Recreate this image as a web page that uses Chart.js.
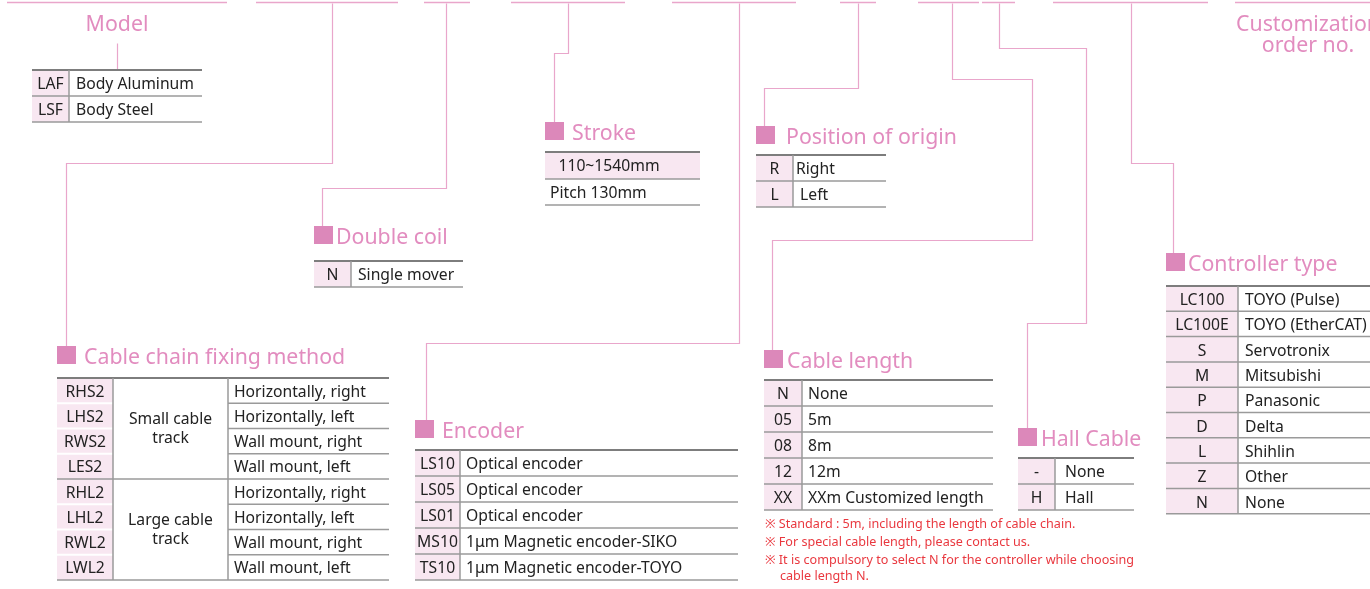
<!DOCTYPE html>
<html>
<head>
<meta charset="utf-8">
<script src="https://cdn.jsdelivr.net/npm/chart.js@4.4.1/dist/chart.umd.min.js"></script>
<style>
  html, body { margin: 0; padding: 0; background: #fff; overflow: hidden; }
  #wrap { width: 1370px; height: 589px; position: relative; }
</style>
</head>
<body>
<div id="wrap"><canvas id="orderChart"></canvas></div>
<script>
// Order code data
const modelCodes = ['LAF', 'LSF'];
const modelDescs = ['Body Aluminum', 'Body Steel'];

const strokeRows = ['110~1540mm', 'Pitch 130mm'];

const doubleCoilCodes = ['N'];
const doubleCoilDescs = ['Single mover'];

const originCodes = ['R', 'L'];
const originDescs = ['Right', ' Left'];

const cableChainCodes = ['RHS2', 'LHS2', 'RWS2', 'LES2', 'RHL2', 'LHL2', 'RWL2', 'LWL2'];
const cableChainGroups = [['Small cable', 'track'], ['Large cable', 'track']];
const cableChainDescs = ['Horizontally, right', 'Horizontally, left', 'Wall mount, right', 'Wall mount, left',
                         'Horizontally, right', 'Horizontally, left', 'Wall mount, right', 'Wall mount, left'];

const encoderCodes = ['LS10', 'LS05', 'LS01', 'MS10', 'TS10'];
const encoderDescs = ['Optical encoder', 'Optical encoder', 'Optical encoder',
                      '1μm Magnetic encoder-SIKO', '1μm Magnetic encoder-TOYO'];

const cableLengthCodes = ['N', '05', '08', '12', 'XX'];
const cableLengthDescs = ['None', '5m', '8m', '12m', 'XXm Customized length'];

const hallCodes = ['-', 'H'];
const hallDescs = ['None', 'Hall'];

const controllerCodes = ['LC100', 'LC100E', 'S', 'M', 'P', 'D', 'L', 'Z', 'N'];
const controllerDescs = ['TOYO (Pulse)', 'TOYO (EtherCAT)', 'Servotronix', 'Mitsubishi', 'Panasonic',
                         'Delta', 'Shihlin', 'Other', 'None'];

const cableNotes = ['※ Standard : 5m, including the length of cable chain.',
                    '※ For special cable length, please contact us.',
                    '※ It is compulsory to select N for the controller while choosing',
                    'cable length N.'];

// Layout (diagram units = page pixels)
const topSegments = [[7, 227], [256, 398], [424, 470], [511, 625], [672, 796], [840, 876],
                     [918, 979], [982, 1015], [1053, 1208], [1235, 1370]];
const connectors = [
    [[117, 43], [117, 70]],
    [[332, 3], [332, 163], [66, 163], [66, 346]],
    [[446, 3], [446, 188], [322, 188], [322, 226]],
    [[568, 3], [568, 53], [554, 53], [554, 122]],
    [[739, 3], [739, 343], [426, 343], [426, 420]],
    [[858, 3], [858, 88], [764, 88], [764, 126]],
    [[952, 3], [952, 79], [1032, 79], [1032, 240], [772, 240], [772, 350]],
    [[999, 3], [999, 48], [1086, 48], [1086, 323], [1027, 323], [1027, 428]],
    [[1131, 3], [1131, 163], [1173, 163], [1173, 253]]
];

const PINK_LINE = '#e9a6cb';
const PINK_TEXT = '#e28cbf';
const PINK_BOX = '#dc88ba';
const CELL_BG = '#f8e7f1';
const GRID = '#9a9a9a';
const TEXT = '#222';
const FONT = '"Noto Sans", "Open Sans", sans-serif';
const CELL_SIZE = 15.7;
const TITLE_SIZE = 21.3;

const diagramPlugin = {
    id: 'orderDiagram',
    afterDraw(chart) {
        const ctx = chart.ctx;
        const sx = chart.scales.x, sy = chart.scales.y;
        const px = v => sx.getPixelForValue(v);
        const py = v => sy.getPixelForValue(v);

        ctx.save();
        ctx.lineCap = 'butt';

        // top code segments
        ctx.strokeStyle = PINK_LINE;
        ctx.lineWidth = 1.5;
        topSegments.forEach(s => {
            ctx.beginPath();
            ctx.moveTo(px(s[0]), py(2.5));
            ctx.lineTo(px(s[1]), py(2.5));
            ctx.stroke();
        });
        // connector lines
        connectors.forEach(path => {
            ctx.beginPath();
            path.forEach((p, i) => {
                const X = Math.round(px(p[0])) + 0.5, Y = Math.round(py(p[1])) + 0.5;
                if (i === 0) ctx.moveTo(X, Y); else ctx.lineTo(X, Y);
            });
            ctx.lineWidth = 1.2;
            ctx.stroke();
        });

        function text(str, x, y, size, color, align) {
            ctx.font = size + 'px ' + FONT;
            ctx.fillStyle = color;
            ctx.textAlign = align || 'left';
            ctx.textBaseline = 'middle';
            ctx.fillText(str, px(x), py(y));
        }
        function hline(x1, x2, y, color, w) {
            ctx.strokeStyle = color;
            ctx.lineWidth = w;
            ctx.beginPath();
            ctx.moveTo(px(x1), py(y));
            ctx.lineTo(px(x2), py(y));
            ctx.stroke();
        }
        function vline(x, y1, y2, color, w) {
            ctx.strokeStyle = color;
            ctx.lineWidth = w;
            ctx.beginPath();
            ctx.moveTo(px(x), py(y1));
            ctx.lineTo(px(x), py(y2));
            ctx.stroke();
        }
        function heading(label, x, y, gap) {
            ctx.fillStyle = PINK_BOX;
            ctx.fillRect(px(x), py(y), px(x + 19) - px(x), py(y + 18) - py(y));
            text(label, x + 19 + gap, y + 12, TITLE_SIZE, PINK_TEXT);
        }
        // simple two-column code table
        function codeTable(x, xCol, xEnd, top, rowH, codes, descs, descPad) {
            const bottom = top + rowH * codes.length;
            ctx.fillStyle = CELL_BG;
            ctx.fillRect(px(x), py(top), px(xCol) - px(x), py(bottom) - py(top));
            for (let i = 0; i <= codes.length; i++) {
                const y = top + rowH * i;
                hline(x, xEnd, y, i === 0 ? '#7d7d7d' : GRID, i === 0 ? 2 : 1.5);
            }
            vline(xCol, top, bottom, GRID, 1.5);
            codes.forEach((c, i) => {
                const cy = top + rowH * i + rowH / 2 + 2;
                text(c, (x + xCol) / 2, cy, CELL_SIZE, TEXT, 'center');
                text(descs[i], xCol + (descPad || 7), cy, CELL_SIZE, TEXT);
            });
        }

        // Model
        text('Model', 117, 25, TITLE_SIZE, PINK_TEXT, 'center');
        codeTable(32, 69, 202, 70, 26, modelCodes, modelDescs, 7);

        // Stroke
        heading('Stroke', 545, 122, 8);
        ctx.fillStyle = CELL_BG;
        ctx.fillRect(px(545), py(152), px(700) - px(545), py(179) - py(152));
        hline(545, 700, 152, '#7d7d7d', 2);
        hline(545, 700, 179, GRID, 1.5);
        hline(545, 700, 205, GRID, 1.5);
        text(strokeRows[0], 609, 167, CELL_SIZE, TEXT, 'center');
        text(strokeRows[1], 550, 194, CELL_SIZE, TEXT);

        // Position of origin
        heading('Position of origin', 756, 126, 11);
        codeTable(756, 793, 886, 155, 26, originCodes, originDescs, 3);

        // Double coil
        heading('Double coil', 314, 226, 3);
        codeTable(314, 351, 463, 261, 26, doubleCoilCodes, doubleCoilDescs, 7);

        // Cable chain fixing method
        heading('Cable chain fixing method', 57, 346, 8);
        {
            const top = 378, rowH = 25.25, x = 57, c1 = 113, c2 = 228, xEnd = 389;
            const n = cableChainCodes.length, bottom = top + rowH * n;
            ctx.fillStyle = CELL_BG;
            ctx.fillRect(px(x), py(top), px(c1) - px(x), py(bottom) - py(top));
            for (let i = 0; i <= n; i++) {
                const y = top + rowH * i;
                if (i === 0) hline(x, xEnd, y, '#7d7d7d', 2);
                else if (i === 4 || i === n) hline(x, xEnd, y, GRID, 1.5);
                else { hline(x, c1, y, '#ffffff', 2); hline(c2, xEnd, y, GRID, 1.5); }
            }
            vline(c1, top, bottom, GRID, 1.5);
            vline(c2, top, bottom, GRID, 1.5);
            cableChainCodes.forEach((c, i) => {
                const cy = top + rowH * i + rowH / 2 + 1.5;
                text(c, (x + c1) / 2, cy, CELL_SIZE, TEXT, 'center');
                text(cableChainDescs[i], c2 + 6, cy, CELL_SIZE, TEXT);
            });
            cableChainGroups.forEach((g, gi) => {
                const mid = top + rowH * (gi * 4 + 2);
                text(g[0], (c1 + c2) / 2, mid - 8.5, CELL_SIZE, TEXT, 'center');
                text(g[1], (c1 + c2) / 2, mid + 10.5, CELL_SIZE, TEXT, 'center');
            });
        }

        // Encoder
        heading('Encoder', 415, 420, 8);
        codeTable(415, 460, 738, 450, 26, encoderCodes, encoderDescs, 6);

        // Cable length
        heading('Cable length', 764, 350, 4);
        codeTable(764, 802, 993, 380, 26, cableLengthCodes, cableLengthDescs, 6);
        const noteX = [765, 765, 765, 780];
        const noteY = [524, 542, 560, 576];
        cableNotes.forEach((n, i) => {
            text(n, noteX[i], noteY[i], 12.6, '#e9383f');
        });

        // Hall cable
        heading('Hall Cable', 1018, 428, 4);
        codeTable(1018, 1055, 1134, 458, 26, hallCodes, hallDescs, 10);

        // Controller type
        heading('Controller type', 1166, 253, 3);
        codeTable(1166, 1238, 1375, 286, 25.3, controllerCodes, controllerDescs, 7);

        // Customization order no.
        text('Customization', 1308, 25, TITLE_SIZE, PINK_TEXT, 'center');
        text('order no.', 1308, 46, TITLE_SIZE, PINK_TEXT, 'center');

        ctx.restore();
    }
};

const chart = new Chart(document.getElementById('orderChart'), {
    type: 'scatter',
    data: { datasets: [{ data: [], pointRadius: 0 }] },
    options: {
        responsive: true,
        maintainAspectRatio: false,
        animation: false,
        layout: { padding: 0 },
        plugins: { legend: { display: false }, tooltip: { enabled: false } },
        scales: {
            x: { type: 'linear', min: 0, max: 1370, display: false },
            y: { type: 'linear', min: 0, max: 589, reverse: true, display: false }
        }
    },
    plugins: [diagramPlugin]
});
</script>
</body>
</html>
